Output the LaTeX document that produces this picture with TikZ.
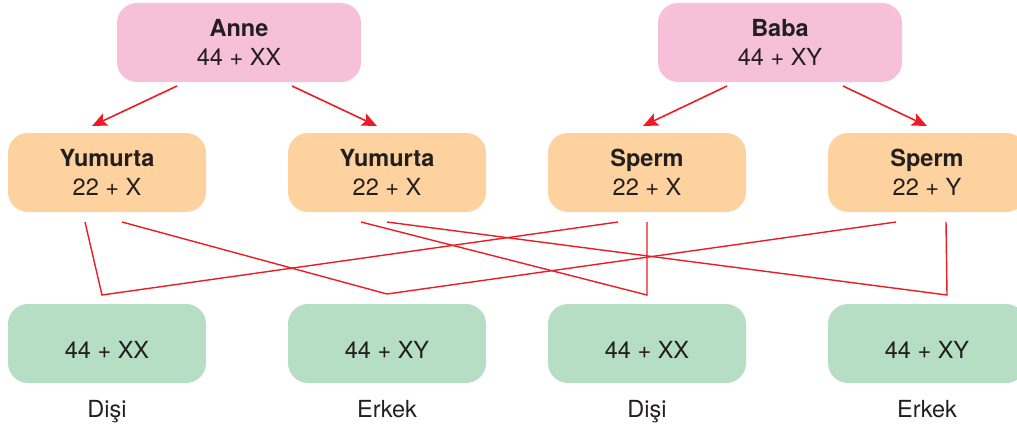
\documentclass[tikz,border=0pt]{standalone}
\usepackage{fontspec}
\setmainfont{TeX Gyre Heros}
\usetikzlibrary{arrows.meta,calc}
\definecolor{pinkbox}{HTML}{F6C0D9}
\definecolor{orangebox}{HTML}{FDD29E}
\definecolor{greenbox}{HTML}{B5DEC4}
\definecolor{redline}{HTML}{EC1C24}
\definecolor{txt}{HTML}{231F20}
\tikzset{
  box/.style={rounded corners=20pt, minimum width=198pt, minimum height=79pt, inner sep=0pt,
    text=txt, font=\fontsize{23.5}{29}\selectfont},
  parent/.style={box, align=center, fill=pinkbox, minimum width=244pt},
  gamete/.style={box, align=center, fill=orangebox},
  child/.style={box, fill=greenbox, text height=29pt, text depth=0pt},
  sexlabel/.style={text=txt, font=\fontsize{23.5}{28}\selectfont, inner sep=0pt, anchor=base},
  arr/.style={draw=redline, line width=1.6pt, -{Stealth[length=15pt,width=13pt,inset=3pt]}},
  link/.style={draw=redline, line width=1.4pt, line join=miter}
}
\begin{document}
\begin{tikzpicture}[x=1pt,y=-1pt]
\useasboundingbox (0,0) rectangle (1017,428);
% parents
\node[parent] (anne) at (239,42.5) {\textbf{Anne}\\44 + XX};
\node[parent] (baba) at (780,42.5) {\textbf{Baba}\\44 + XY};
% gametes
\node[gamete] (y1) at (107,172.5) {\textbf{Yumurta}\\22 + X};
\node[gamete] (y2) at (387,172.5) {\textbf{Yumurta}\\22 + X};
\node[gamete] (s1) at (647,172.5) {\textbf{Sperm}\\22 + X};
\node[gamete] (s2) at (927,172.5) {\textbf{Sperm}\\22 + Y};
% children
\node[child] (c1) at (107,343.5) {44 + XX};
\node[child] (c2) at (387,343.5) {44 + XY};
\node[child] (c3) at (647,343.5) {44 + XX};
\node[child] (c4) at (927,343.5) {44 + XY};
% labels
\node[sexlabel] (l1) at (107,417) {Dişi};
\node[sexlabel] (l2) at (387,417) {Erkek};
\node[sexlabel] (l3) at (647,417) {Dişi};
\node[sexlabel] (l4) at (927,417) {Erkek};
% arrow coordinates
\coordinate (a1s) at (177,86);  \coordinate (a1e) at (92,126);
\coordinate (a2s) at (292,86);  \coordinate (a2e) at (377,126);
\coordinate (b1s) at (727,86);  \coordinate (b1e) at (643,126);
\coordinate (b2s) at (843,86);  \coordinate (b2e) at (927,126);
\draw[arr] (a1s) -- (a1e);
\draw[arr] (a2s) -- (a2e);
\draw[arr] (b1s) -- (b1e);
\draw[arr] (b2s) -- (b2e);
% link coordinates
\coordinate (y1a) at (85,222);  \coordinate (y1b) at (122,222);
\coordinate (y2a) at (361,222); \coordinate (y2b) at (387,222);
\coordinate (s1a) at (618,222); \coordinate (s1b) at (647,222);
\coordinate (s2a) at (896,222); \coordinate (s2b) at (946,222);
\coordinate (j1) at (102,295);
\coordinate (j2) at (387,294);
\coordinate (j3) at (647,295);
\coordinate (j4) at (947,295);
\draw[link] (y1a) -- (j1) -- (s1a);
\draw[link] (y1b) -- (j2) -- (s2a);
\draw[link] (y2a) -- (j3) -- (s1b);
\draw[link] (y2b) -- (j4) -- (s2b);
\end{tikzpicture}
\end{document}
